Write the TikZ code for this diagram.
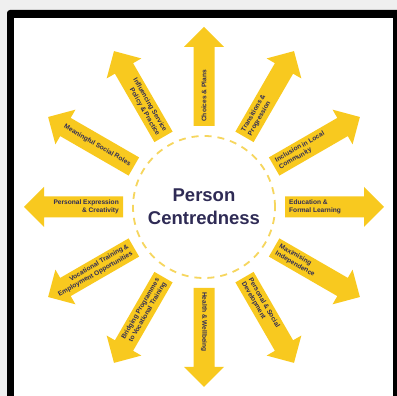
\documentclass[tikz,border=0pt]{standalone}
\usepackage{fontspec}
\newfontfamily\labelfont{Liberation Sans}
\definecolor{sunyellow}{HTML}{F8C91F}
\definecolor{ringyellow}{HTML}{F6D65E}
\definecolor{inknavy}{HTML}{2F2B55}
\definecolor{pagegray}{HTML}{EFEFEF}
\tikzset{
  spoke/.style={fill=sunyellow},
  spoketext/.style={font=\labelfont\bfseries\fontsize{6.6}{7.9}\selectfont, text=inknavy, inner sep=0pt},
  ring/.style={ringyellow, line width=1.8pt, dash pattern=on 7pt off 6pt},
}
\begin{document}
\begin{tikzpicture}[x=1pt,y=1pt]
  \useasboundingbox (0,0) rectangle (397,396);
  \clip (0,0) rectangle (397,396);
  % page and frame
  \fill[pagegray] (0,0) rectangle (397,396);
  \fill[black, rounded corners=3pt] (7,-10) rectangle (405,386);
  \fill[white] (14,-10) rectangle (393,378);
  \begin{scope}[shift={(204,189)}]
    % central ring and title
    \draw[ring] (0,0) circle (71);
    \node[font=\labelfont\bfseries\fontsize{18.5}{23}\selectfont, text=inknavy, align=center] (core) at (0,0) {Person\\Centredness};
    % radiating arrows
    \foreach \a in {90,60,30,0,-30,-60,-90,-120,-150,180,150,120}{
      \begin{scope}[rotate=\a]
        \fill[spoke] (81,-10.5) -- (160,-10.5) -- (160,-20) -- (180,0) -- (160,20) -- (160,10.5) -- (81,10.5) -- cycle;
      \end{scope}
    }
    % arrow labels, reading outward on the right half, inward on the left half
    \node[spoketext, anchor=west, rotate=90, align=left] (choices) at (90:85) {Choices \& Plans};
    \node[spoketext, anchor=west, rotate=60, align=left] (transitions) at (60:85) {Transitions \&\\Progression};
    \node[spoketext, anchor=west, rotate=30, align=left] (inclusion) at (30:85) {Inclusion in Local\\Community};
    \node[spoketext, anchor=west, rotate=0, align=left] (education) at (0:85) {Education \&\\Formal Learning};
    \node[spoketext, anchor=west, rotate=-30, align=left] (maximising) at (-30:85) {Maximising\\Independence};
    \node[spoketext, anchor=west, rotate=-60, align=left] (development) at (-60:85) {Personal \& Social\\Development};
    \node[spoketext, anchor=west, rotate=-90, align=left] (health) at (-90:85) {Health \& Wellbeing};
    \node[spoketext, anchor=east, rotate=60, align=right] (bridging) at (-120:85) {Bridging Programmes\\to Vocational Training};
    \node[spoketext, anchor=east, rotate=30, align=right] (vocational) at (-150:85) {Vocational Training \&\\Employment Opportunities};
    \node[spoketext, anchor=east, rotate=0, align=right] (expression) at (180:85) {Personal Expression\\\& Creativity};
    \node[spoketext, anchor=east, rotate=-30, align=right] (roles) at (150:85) {Meaningful Social Roles};
    \node[spoketext, anchor=east, rotate=-60, align=right] (influencing) at (120:85) {Influencing Service\\Policy \& Practice};
  \end{scope}
\end{tikzpicture}
\end{document}
